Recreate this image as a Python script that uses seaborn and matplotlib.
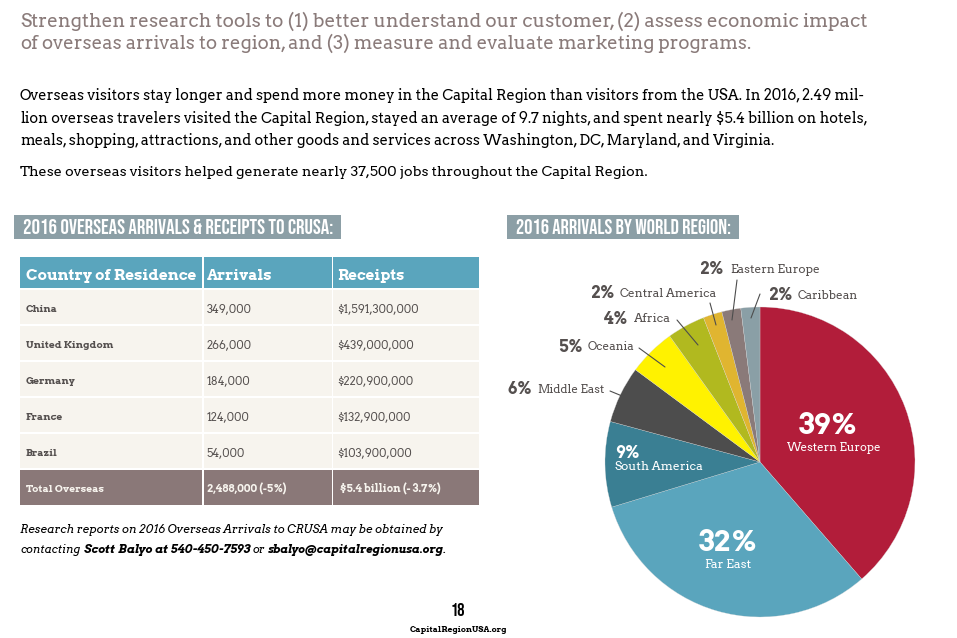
import matplotlib as mpl
mpl.use("Agg")
import matplotlib.pyplot as plt
from matplotlib.patches import Rectangle
import seaborn as sns

# data
regions = ["Western Europe", "Far East", "South America", "Middle East", "Oceania",
           "Africa", "Central America", "Eastern Europe", "Caribbean"]
shares = [39, 32, 9, 6, 5, 4, 2, 2, 2]
countries = ["China", "United Kingdom", "Germany", "France", "Brazil"]
arrivals = ["349,000", "266,000", "184,000", "124,000", "54,000"]
receipts = ["$1,591,300,000", "$439,000,000", "$220,900,000", "$132,900,000", "$103,900,000"]
table_head = ["Country of Residence", "Arrivals", "Receipts"]
table_total = ["Total Overseas", "2,488,000 (-5%)", "$5.4 billion (- 3.7%)"]

pie_colors = sns.color_palette(["#b21d3a", "#5aa5bd", "#3a7f93", "#4d4d4d", "#fff200",
                                "#b1b91f", "#e0b530", "#8a7a79", "#8a9fa6"])

# closest slab and condensed faces, the DejaVu ones are there as a fallback
SLAB = ["Arvo", "DejaVu Serif"]
NARROW = ["Bebas Neue", "DejaVu Sans"]
TAUPE = "#8a7b7a"
GREY = "#55504f"

sns.set_theme(style="white")

W, H = 957, 638
fig = plt.figure(figsize=(W / 100, H / 100), dpi=100, facecolor="white")

# pie axes, 155 px radius around (760, 462)
R, cx, cy = 155, 760, 462
pie_ax = fig.add_axes([(cx - R) / W, 1 - (cy + R) / H, 2 * R / W, 2 * R / H])
pie_ax.pie(shares, colors=pie_colors, startangle=90, counterclock=False,
           wedgeprops={"edgecolor": "#d8d8d8", "linewidth": 0.2})
pie_ax.set_xlim(-1, 1)
pie_ax.set_ylim(-1, 1)

# everything else is laid out in image pixels on a transparent overlay
ax = fig.add_axes([0, 0, 1, 1], zorder=5)
ax.set_xlim(0, W)
ax.set_ylim(H, 0)
ax.axis("off")
ax.patch.set_alpha(0)
renderer = fig.canvas.get_renderer()


def put(x, y, s, width=None, size=10, color="black", family=SLAB, weight="normal",
        style="normal", ha="left", va="baseline"):
    t = ax.text(x, y, s, fontsize=size, color=color, family=family, weight=weight,
                style=style, ha=ha, va=va)
    if width is not None:
        # squeeze or stretch the font size so the line ends where it should,
        # a few passes because hinted widths don't scale exactly
        for _ in range(4):
            t.set_fontsize(t.get_fontsize() * width / t.get_window_extent(renderer).width)
    return t


# heading and intro
put(20, 27, "Strengthen research tools to (1) better understand our customer, (2) assess economic impact",
    width=853, size=13, color=TAUPE)
put(20, 49, "of overseas arrivals to region, and (3) measure and evaluate marketing programs.",
    width=730, size=13, color=TAUPE)
put(20, 100, "Overseas visitors stay longer and spend more money in the Capital Region than visitors from the USA. In 2016, 2.49 mil-",
    width=844)
put(20, 123, "lion overseas travelers visited the Capital Region, stayed an average of 9.7 nights, and spent nearly $5.4 billion on hotels,",
    width=845)
put(20, 145, "meals, shopping, attractions, and other goods and services across Washington, DC, Maryland, and Virginia.",
    width=753)
put(20, 176, "These overseas visitors helped generate nearly 37,500 jobs throughout the Capital Region.",
    width=629)

# section banners
for x0, x1, label in [(14, 341, "2016 OVERSEAS ARRIVALS & RECEIPTS TO CRUSA:"),
                      (507, 739, "2016 ARRIVALS BY WORLD REGION:")]:
    ax.add_patch(Rectangle((x0, 215), x1 - x0, 24, color="#8c9fa6", lw=0))
    put(x0 + 9, 234.5, label, width=x1 - x0 - 17, size=13, color="white", family=NARROW, weight="bold")

# table
col_x = [(20, 202), (203.5, 331.5), (333, 479)]
head_width = [171, 66, 67]
pad = [5.5, 3.5, 4.5]
for (x0, x1), label, w, p in zip(col_x, table_head, head_width, pad):
    ax.add_patch(Rectangle((x0, 257), x1 - x0, 31, color="#5aa5bd", lw=0))
    put(x0 + p, 280, label, width=w, size=11.5, color="white", weight="bold")

for i, row in enumerate(zip(countries, arrivals, receipts)):
    top = 290 + 36 * i
    for j, ((x0, x1), value) in enumerate(zip(col_x, row)):
        ax.add_patch(Rectangle((x0, top), x1 - x0, 34, color="#f7f4ee", lw=0))
        put(x0 + pad[j], top + 19.5, value, size=7.3 if j == 0 else 8.1, color=GREY, va="center",
            weight="bold" if j == 0 else "normal")

total_size = [7.4, 7.7, 7.7]
total_pad = [5.5, 3.5, 7]
for (x0, x1), value, s, p in zip(col_x, table_total, total_size, total_pad):
    ax.add_patch(Rectangle((x0, 469.5), x1 - x0, 35.5, color="#8a7878", lw=0))
    put(x0 + p, 489.5, value, size=s, color="#f7f4ee", va="center", weight="bold")

# note under the table
put(20, 533, "Research reports on 2016 Overseas Arrivals to CRUSA may be obtained by",
    width=424, style="italic")
note_start = put(20, 553, "contacting", width=60, style="italic")
put(84, 553, "Scott Balyo at 540-450-7593", width=166, weight="bold", style="italic")
put(253, 553, "or", size=note_start.get_fontsize(), style="italic")
put(268, 553, "sbalyo@capitalregionusa.org", width=175, weight="bold", style="italic")
put(443, 553, ".", style="italic")

# footer
put(458, 616, "18", size=13, family=NARROW, weight="bold", ha="center")
put(458, 632, "CapitalRegionUSA.org", width=97, weight="bold", ha="center")

# outside labels: percent x, name x, label y, leader line
outside = {
    "Middle East": (507, 537, 390, [(610, 391), (639, 403)]),
    "Oceania": (558, 588, 347, [(639, 348), (665, 367)]),
    "Africa": (604, 634, 319, [(677, 320), (698, 345)]),
    "Central America": (590, 620, 294, [(710, 303), (716, 325)]),
    "Eastern Europe": (699, 730, 270, [(737, 280), (732, 320)]),
    "Caribbean": (768, 798, 296, [(760, 294), (751, 318)]),
}
label_width = {"Middle East": 68, "Oceania": 47, "Africa": 37, "Central America": 97,
               "Eastern Europe": 90, "Caribbean": 61}
for name, share in zip(regions, shares):
    if name in outside:
        xp, xn, y, line = outside[name]
        put(xp, y, f"{share}%", width=24, size=11, color=GREY, weight="bold", va="center")
        put(xn, y, name, width=label_width[name], size=8, color=GREY, va="center")
        ax.plot(*zip(*line), color="#4d4d4d", lw=0.8)

# labels inside the big slices
put(828, 426, f"{shares[0]}%", width=58, size=20, color="white", weight="bold", ha="center", va="center")
put(834, 448, regions[0], width=95, size=8.5, color="white", ha="center", va="center")
put(728, 543, f"{shares[1]}%", width=58, size=20, color="white", weight="bold", ha="center", va="center")
put(728, 565, regions[1], width=47, size=8.5, color="white", ha="center", va="center")
put(615, 454, f"{shares[2]}%", width=24, size=11, color="white", weight="bold", va="center")
put(615, 467, regions[2], width=88, size=8.5, color="white", va="center")

fig.savefig("out.png", dpi=100)
